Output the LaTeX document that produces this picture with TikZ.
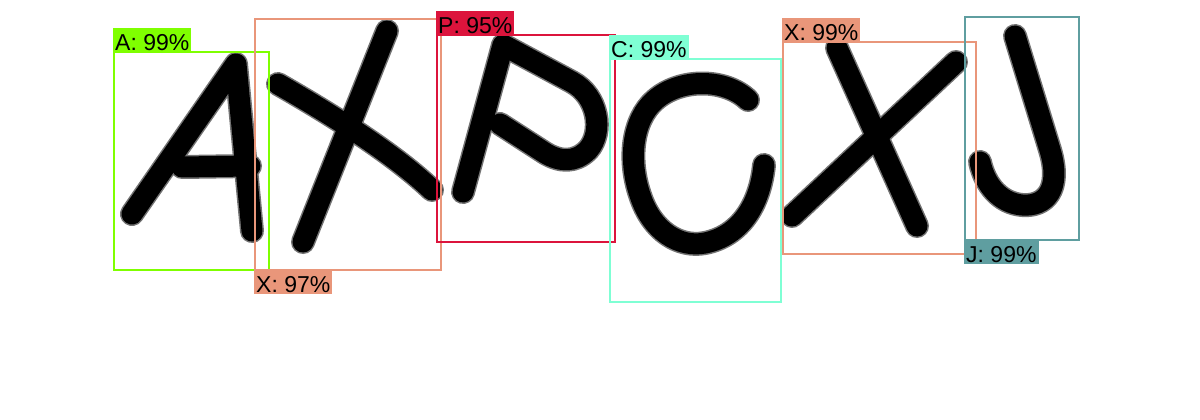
\documentclass[tikz,border=0pt]{standalone}
\usepackage{fontspec}
\setmainfont{Liberation Sans}
\definecolor{colA}{HTML}{7FFF00}
\definecolor{colX}{HTML}{E9967A}
\definecolor{colP}{HTML}{DC143C}
\definecolor{colC}{HTML}{7FFFD4}
\definecolor{colJ}{HTML}{5F9EA0}
\tikzset{
  halo/.style={line width=24pt, line cap=round, line join=round, black!55},
  ink/.style={line width=21pt, line cap=round, line join=round, black},
  bbox/.style={line width=2pt},
  tag/.style={inner xsep=2pt, inner ysep=0pt, text height=23pt, text depth=2pt,
    font=\fontsize{23}{23}\selectfont, text=black}
}
\begin{document}
\begin{tikzpicture}[x=1pt,y=-1pt]
  \useasboundingbox (0,0) rectangle (1200,420);
  % handwritten letters
  \foreach \s in {halo,ink}
  {
    \draw [\s] (132,214) -- (236,64) -- (252,231);
    \draw [\s] (182,167) -- (250,166);
    \draw [\s] (278,84) .. controls (320,108) and (390,150) .. (432,190);
    \draw [\s] (387,31) -- (303,242);
    \draw [\s] (503,45) -- (463,192);
    \draw [\s] (505,46) -- (572,82) .. controls (598,96) and (604,132) .. (588,150)
      .. controls (575,163) and (560,162) .. (545,153) -- (500,124);
    \draw [\s] (748,100) .. controls (725,78) and (680,78) .. (655,100)
      .. controls (632,120) and (628,160) .. (640,195)
      .. controls (652,232) and (680,248) .. (705,243)
      .. controls (740,236) and (760,205) .. (764,165);
    \draw [\s] (837,48) -- (917,226);
    \draw [\s] (956,62) -- (792,216);
    \draw [\s] (1015,36) -- (1050,150) .. controls (1062,190) and (1045,207) .. (1022,205)
      .. controls (1000,203) and (985,185) .. (980,162);
  }
  % boxes and labels
  \draw [bbox, colA] (114,52) rectangle (269,270);
  \node [tag, fill=colA, anchor=south west] (tagA) at (113,53) {A: 99\%};
  \draw [bbox, colX] (255,19) rectangle (441,270);
  \node [tag, fill=colX, anchor=north west] (tagX) at (254,269) {X: 97\%};
  \draw [bbox, colP] (437,35) rectangle (615,242);
  \node [tag, fill=colP, anchor=south west] (tagP) at (436,36) {P: 95\%};
  \draw [bbox, colC] (610,59) rectangle (781,302);
  \node [tag, fill=colC, anchor=south west] (tagC) at (609,60) {C: 99\%};
  \draw [bbox, colX] (783,42) rectangle (976,254);
  \node [tag, fill=colX, anchor=south west] (tagXX) at (782,43) {X: 99\%};
  \draw [bbox, colJ] (965,17) rectangle (1079,240);
  \node [tag, fill=colJ, anchor=north west] (tagJ) at (964,239) {J: 99\%};
\end{tikzpicture}
\end{document}
